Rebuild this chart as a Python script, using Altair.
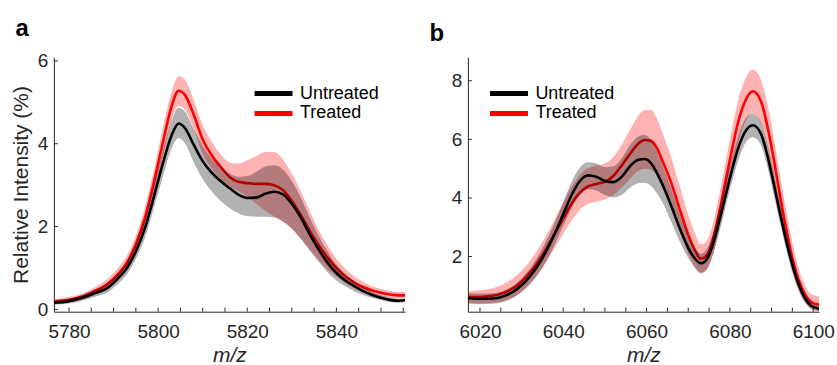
import altair as alt
import pandas as pd

# ---------------- Panel a data ----------------
mz_a = [5776.6, 5780, 5783, 5786, 5788.5, 5791, 5793, 5795, 5797, 5799, 5801, 5803, 5804.6,
        5806, 5808, 5810, 5812, 5814, 5816, 5818, 5820, 5822, 5824, 5826, 5828, 5830, 5832,
        5834, 5836, 5838, 5840, 5842, 5844, 5846, 5848, 5850, 5852, 5854, 5855.4]
untreated_a = [0.16, 0.20, 0.28, 0.40, 0.51, 0.75, 1.00, 1.40, 1.95, 2.70, 3.50, 4.20, 4.49,
               4.38, 3.97, 3.58, 3.30, 3.10, 2.93, 2.77, 2.69, 2.70, 2.79, 2.84, 2.78, 2.55, 2.22,
               1.82, 1.45, 1.13, 0.88, 0.70, 0.56, 0.44, 0.35, 0.28, 0.23, 0.21, 0.22]
untreated_a_lo = [0.11, 0.14, 0.21, 0.31, 0.40, 0.62, 0.85, 1.22, 1.72, 2.43, 3.18, 3.88, 4.14,
                  4.02, 3.55, 3.15, 2.85, 2.62, 2.45, 2.32, 2.25, 2.24, 2.24, 2.22, 2.12, 1.95, 1.70,
                  1.42, 1.15, 0.90, 0.70, 0.56, 0.44, 0.35, 0.28, 0.22, 0.18, 0.16, 0.17]
untreated_a_hi = [0.21, 0.26, 0.35, 0.49, 0.62, 0.88, 1.15, 1.58, 2.18, 2.97, 3.82, 4.55, 4.87,
                  4.78, 4.35, 3.95, 3.65, 3.45, 3.28, 3.20, 3.22, 3.32, 3.45, 3.48, 3.38, 3.10, 2.70,
                  2.22, 1.78, 1.40, 1.08, 0.85, 0.68, 0.54, 0.43, 0.34, 0.29, 0.26, 0.27]
treated_a = [0.19, 0.23, 0.31, 0.45, 0.60, 0.85, 1.13, 1.58, 2.20, 3.05, 4.00, 4.90, 5.28,
             5.18, 4.70, 4.10, 3.72, 3.45, 3.20, 3.08, 3.05, 3.03, 3.03, 3.00, 2.88, 2.62, 2.28,
             1.90, 1.55, 1.25, 1.00, 0.80, 0.65, 0.54, 0.46, 0.40, 0.36, 0.34, 0.34]
treated_a_lo = [0.14, 0.17, 0.24, 0.36, 0.49, 0.72, 0.97, 1.38, 1.95, 2.75, 3.65, 4.55, 4.92,
                4.82, 4.35, 3.75, 3.40, 3.15, 2.98, 2.85, 2.72, 2.55, 2.38, 2.25, 2.12, 1.95, 1.72,
                1.45, 1.20, 0.97, 0.80, 0.64, 0.52, 0.43, 0.36, 0.31, 0.28, 0.27, 0.27]
treated_a_hi = [0.25, 0.30, 0.39, 0.55, 0.72, 1.00, 1.30, 1.78, 2.45, 3.35, 4.35, 5.25, 5.63,
                5.55, 5.05, 4.45, 4.05, 3.75, 3.55, 3.52, 3.60, 3.70, 3.80, 3.80, 3.62, 3.28, 2.85,
                2.38, 1.92, 1.55, 1.22, 0.98, 0.80, 0.66, 0.56, 0.49, 0.45, 0.42, 0.42]

# ---------------- Panel b data ----------------
mz_b = [6017.1, 6020, 6023, 6026, 6029, 6032, 6035, 6038, 6040, 6042, 6044, 6046, 6048, 6050,
        6052, 6054, 6056, 6058, 6059.5, 6061, 6062.5, 6064, 6066, 6068, 6070, 6071.5, 6073,
        6074.5, 6076, 6077.5, 6079, 6080.5, 6082, 6083.5, 6085.5, 6087.5, 6089, 6090.5, 6092,
        6093.5, 6095, 6096.5, 6098, 6099.5, 6101.4]
untreated_b = [0.58, 0.56, 0.57, 0.66, 0.90, 1.32, 1.95, 2.80, 3.45, 4.10, 4.58, 4.77, 4.72, 4.58,
               4.54, 4.72, 5.08, 5.30, 5.33, 5.20, 4.85, 4.40, 3.70, 2.95, 2.30, 1.95, 1.77,
               1.92, 2.45, 3.25, 4.10, 4.95, 5.70, 6.22, 6.48, 6.18, 5.45, 4.50, 3.50,
               2.55, 1.72, 1.05, 0.58, 0.32, 0.22]
untreated_b_lo = [0.40, 0.38, 0.39, 0.47, 0.68, 1.05, 1.62, 2.42, 3.05, 3.65, 4.12, 4.30, 4.25, 4.10,
                  4.02, 4.10, 4.35, 4.50, 4.52, 4.42, 4.15, 3.80, 3.15, 2.50, 1.95, 1.63, 1.45,
                  1.58, 2.10, 2.85, 3.70, 4.55, 5.28, 5.82, 6.07, 5.78, 5.05, 4.12, 3.15,
                  2.25, 1.48, 0.88, 0.46, 0.22, 0.13]
untreated_b_hi = [0.76, 0.74, 0.75, 0.85, 1.12, 1.59, 2.28, 3.18, 3.85, 4.55, 5.04, 5.22, 5.18, 5.05,
                  5.08, 5.35, 5.80, 6.10, 6.15, 6.00, 5.60, 5.05, 4.30, 3.45, 2.70, 2.30, 2.10,
                  2.27, 2.82, 3.65, 4.52, 5.38, 6.12, 6.65, 6.88, 6.58, 5.85, 4.90, 3.85,
                  2.85, 1.98, 1.25, 0.72, 0.44, 0.32]
treated_b = [0.62, 0.62, 0.66, 0.78, 1.02, 1.45, 2.05, 2.78, 3.30, 3.80, 4.18, 4.40, 4.48, 4.55,
             4.75, 5.10, 5.50, 5.85, 5.98, 5.95, 5.70, 5.20, 4.48, 3.60, 2.75, 2.25, 1.93,
             2.05, 2.62, 3.55, 4.60, 5.65, 6.60, 7.25, 7.64, 7.28, 6.45, 5.35, 4.10,
             2.95, 1.95, 1.20, 0.72, 0.45, 0.36]
treated_b_lo = [0.42, 0.40, 0.42, 0.50, 0.70, 1.08, 1.62, 2.30, 2.78, 3.22, 3.60, 3.80, 3.88, 3.95,
                4.10, 4.35, 4.65, 4.92, 5.00, 4.95, 4.75, 4.30, 3.65, 2.85, 2.10, 1.68, 1.42,
                1.55, 2.10, 2.95, 3.95, 4.98, 5.88, 6.52, 6.89, 6.55, 5.72, 4.62, 3.40,
                2.35, 1.45, 0.82, 0.42, 0.22, 0.15]
treated_b_hi = [0.82, 0.85, 0.92, 1.08, 1.38, 1.85, 2.50, 3.28, 3.85, 4.38, 4.78, 5.02, 5.10, 5.18,
                5.40, 5.82, 6.32, 6.80, 7.00, 7.00, 6.70, 6.15, 5.35, 4.38, 3.42, 2.85, 2.42,
                2.55, 3.15, 4.15, 5.25, 6.35, 7.35, 8.00, 8.38, 8.02, 7.20, 6.10, 4.82,
                3.58, 2.48, 1.60, 1.02, 0.72, 0.64]

# ---------------- Axis ticks / labels ----------------
xlabels_a = [5780, 5800, 5820, 5840]
xticks_a = [5780, 5785, 5790, 5795, 5800, 5805, 5810, 5815, 5820, 5825, 5830, 5835, 5840, 5845, 5850, 5855]
ylabels_a = [0, 2, 4, 6]
xlabels_b = [6020, 6040, 6060, 6080, 6100]
xticks_b = [6020, 6025, 6030, 6035, 6040, 6045, 6050, 6055, 6060, 6065, 6070, 6075, 6080, 6085, 6090, 6095, 6100]
ylabels_b = [2, 4, 6, 8]
groups = ["Untreated", "Treated"]
colors = ["#000000", "#ff0000"]

FONT = "Liberation Sans"
W, H = 352, 255
TXT = "#262626"


def long_df(mz, u, ulo, uhi, t, tlo, thi):
    a = pd.DataFrame({"mz": mz, "val": u, "lo": ulo, "hi": uhi, "group": "Untreated"})
    b = pd.DataFrame({"mz": mz, "val": t, "lo": tlo, "hi": thi, "group": "Treated"})
    return pd.concat([a, b], ignore_index=True)


def panel(df, xdom, ydom, xlab, xtk, ylab, label, ytitle, legx, legy, title_dx):
    xaxis = alt.Axis(values=xlab, title="m/z", titleFontStyle="italic", format="d")
    if ytitle:
        yaxis = alt.Axis(values=ylab, title="Relative Intensity (%)", format="d")
    else:
        yaxis = alt.Axis(values=ylab, title=None, format="d")
    xs = alt.Scale(domain=xdom, nice=False, zero=False)
    ys = alt.Scale(domain=ydom, nice=False, zero=False)
    X = alt.X("mz:Q", scale=xs, axis=xaxis)
    Yv = alt.Y("val:Q", scale=ys, axis=yaxis)
    Ylo = alt.Y("lo:Q", scale=ys, axis=yaxis)
    C = alt.Color("group:N", scale=alt.Scale(domain=groups, range=colors),
                  legend=alt.Legend(orient="none", legendX=legx, legendY=legy, title=None,
                                    symbolType="stroke", symbolStrokeWidth=5, symbolSize=1444,
                                    labelFontSize=18, labelFont=FONT, labelColor="#000000",
                                    clipHeight=19.4, labelOffset=5, rowPadding=0, padding=0,
                                    symbolOffset=0))
    base = alt.Chart(df)
    red_band = base.transform_filter(alt.datum.group == "Treated").mark_area(
        color="#ff0000", opacity=0.3, interpolate="monotone", clip=True).encode(x=X, y=Ylo, y2="hi:Q")
    red_line = base.transform_filter(alt.datum.group == "Treated").mark_line(
        strokeWidth=2.6, interpolate="monotone", clip=True).encode(x=X, y=Yv, color=C)
    gray_band = base.transform_filter(alt.datum.group == "Untreated").mark_area(
        color="#000000", opacity=0.3, interpolate="monotone", clip=True).encode(x=X, y=Ylo, y2="hi:Q")
    black_line = base.transform_filter(alt.datum.group == "Untreated").mark_line(
        strokeWidth=2.6, interpolate="monotone", clip=True).encode(x=X, y=Yv, color=C)
    xt = alt.Chart(pd.DataFrame({"mz": xtk})).mark_rule(color=TXT, strokeWidth=1).encode(
        x=X, y=alt.value(H), y2=alt.value(H - 4))
    yt = alt.Chart(pd.DataFrame({"val": ylab})).mark_rule(color=TXT, strokeWidth=1).encode(
        y=Yv, x=alt.value(0), x2=alt.value(4))
    return alt.layer(red_band, red_line, gray_band, black_line, xt, yt).properties(
        width=W, height=H,
        title=alt.TitleParams(label, anchor="start", frame="bounds", fontSize=24, fontWeight="bold",
                              font=FONT, color="#000000", dx=title_dx, offset=-7.7, baseline="alphabetic"))


df_a = long_df(mz_a, untreated_a, untreated_a_lo, untreated_a_hi, treated_a, treated_a_lo, treated_a_hi)
df_b = long_df(mz_b, untreated_b, untreated_b_lo, untreated_b_hi, treated_b, treated_b_lo, treated_b_hi)

pa = panel(df_a, [5776.6, 5855.4], [-0.055, 6.087], xlabels_a, xticks_a, ylabels_a, "a", True, 198.7, 26.6, 5)
pb = panel(df_b, [6017.1, 6101.4], [0.119, 8.80], xlabels_b, xticks_b, ylabels_b, "b", False, 19.7, 26.6, -22)

chart = alt.hconcat(pa, pb, spacing=24).resolve_scale(color="independent").properties(
    padding={"left": 10, "top": 16, "right": 2, "bottom": 0}, background="white"
).configure_view(stroke=None).configure_axis(
    grid=False, ticks=False, tickSize=0, domainColor=TXT, domainWidth=1,
    labelFont=FONT, labelFontSize=19, labelColor=TXT, labelPadding=6,
    titleFont=FONT, titleFontSize=21, titleFontWeight="normal", titleColor=TXT
).configure_axisX(labelPadding=11, titlePadding=3).configure_axisY(titlePadding=6)

chart.save("out.html", embed_options={"renderer": "svg", "actions": False})
